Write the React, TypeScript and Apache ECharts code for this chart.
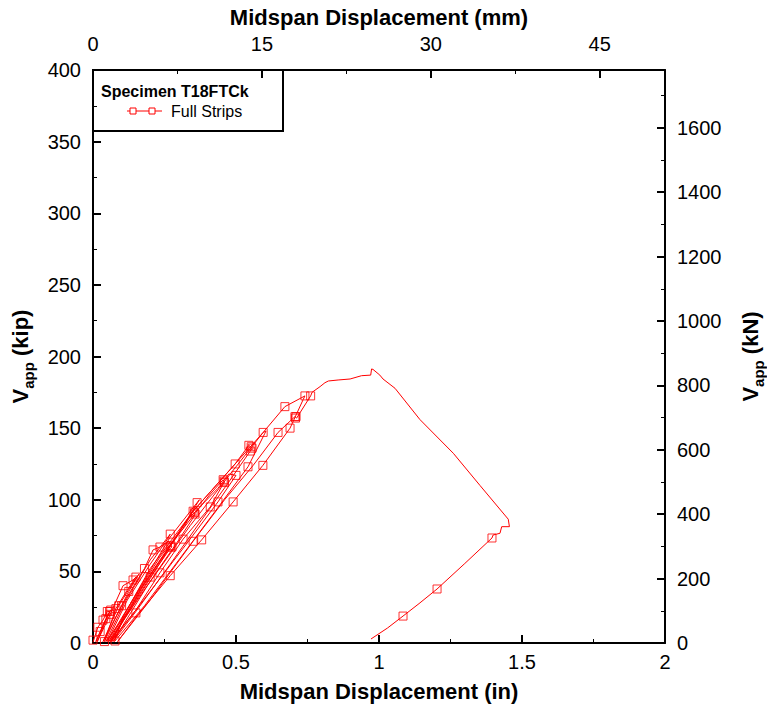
import React, { useEffect, useRef } from "react";
import * as echarts from "echarts";

// Midspan displacement (in) vs applied shear V_app (kip) — full recorded path
const pathIn: number[] = [
  0.000, 0.017, 0.035, 0.050, 0.058, 0.040, 0.010,
  0.025, 0.045, 0.062, 0.045, 0.015,
  0.060, 0.105, 0.140, 0.150, 0.120, 0.080, 0.040,
  0.080, 0.125, 0.160, 0.130, 0.090, 0.035,
  0.100, 0.180, 0.210, 0.234, 0.265, 0.276, 0.270, 0.200, 0.130, 0.045,
  0.110, 0.200, 0.270, 0.262, 0.200, 0.120, 0.050,
  0.120, 0.234, 0.315, 0.350, 0.357, 0.352, 0.300, 0.200, 0.055,
  0.150, 0.270, 0.364, 0.372, 0.360, 0.300, 0.200, 0.060,
  0.160, 0.300, 0.410, 0.455, 0.460, 0.455, 0.410, 0.315, 0.234, 0.150, 0.062,
  0.170, 0.330, 0.437, 0.475, 0.500, 0.437, 0.330, 0.200, 0.065,
  0.180, 0.350, 0.497, 0.545, 0.556, 0.550, 0.470, 0.380, 0.270, 0.150, 0.070,
  0.190, 0.340, 0.480, 0.595, 0.605, 0.600, 0.542, 0.420, 0.300, 0.180, 0.075,
  0.110, 0.200, 0.350, 0.497, 0.595, 0.671, 0.741, 0.735, 0.689, 0.594, 0.490, 0.380, 0.270, 0.150, 0.086,
  0.200, 0.350, 0.460, 0.560, 0.647, 0.706, 0.712, 0.761, 0.766, 0.794, 0.811, 0.823, 0.857, 0.899, 0.939,
  0.971, 0.974, 0.979, 1.003, 1.014, 1.056, 1.143, 1.260, 1.353, 1.452, 1.456, 1.429, 1.423, 1.399, 1.395,
  1.300, 1.203, 1.140, 1.084, 1.030, 0.972,
];
const pathKip: number[] = [
  0.5, 11, 16, 22, 22, 14, 1,
  8, 17, 23, 16, 1,
  20, 40, 44, 46, 37, 24, 1,
  18, 36, 48, 39, 26, 1,
  26, 52, 65, 67, 71, 67, 66, 46, 24, 1,
  28, 58, 76, 73, 55, 30, 1,
  24, 60, 80, 92, 90, 88, 72, 43, 1,
  34, 74, 98, 100, 96, 77, 45, 1,
  36, 76, 104, 114, 112, 111, 95, 72.5, 49, 23, 1,
  38, 86, 108, 118, 117, 98.5, 70, 36, 1,
  42, 92, 125, 138, 136, 134, 111, 86, 55, 22, 1,
  40, 82, 118, 147, 148, 146, 123, 90, 58, 26, 1,
  20, 52, 92, 125, 147, 165, 172.5, 170, 150, 124, 98.5, 72, 47, 18, 1,
  30, 71, 100, 124, 147, 158, 157, 172.5, 175, 179, 181.7, 182.9, 183.6, 184.3, 186.6,
  187, 191.3, 191, 187, 184.3, 177.8, 156, 132.4, 110, 86.4, 81.2, 81.2, 76.6, 75.4, 73.3,
  55.5, 37.7, 27.5, 18.8, 10.5, 2.8,
];

// Marked (square) readings
const markIn: number[] = [
  0.000, 0.040, 0.077, 0.017, 0.035, 0.050, 0.058, 0.025, 0.045, 0.062, 0.060, 0.105, 0.140, 0.150,
  0.080, 0.150, 0.125, 0.090, 0.100, 0.180, 0.210, 0.234, 0.270, 0.276, 0.272, 0.200, 0.270, 0.234,
  0.270, 0.315, 0.350, 0.380, 0.350, 0.357, 0.355, 0.364, 0.410, 0.437, 0.490, 0.455, 0.460, 0.458,
  0.500, 0.497, 0.542, 0.594, 0.545, 0.556, 0.553, 0.550, 0.595, 0.647, 0.689, 0.706, 0.710, 0.708,
  0.671, 0.741, 0.761, 1.395, 1.203, 1.084,
];
const markKip: number[] = [
  2, 1, 1.4, 11, 16, 22, 22, 8, 17, 23, 20, 40, 44, 46,
  24, 21, 36, 26, 26, 52, 65, 67, 67, 67, 68, 46, 76, 49,
  47, 72.5, 71, 72, 92, 90, 91, 98, 95, 98.5, 98.5, 114, 112, 113,
  117, 125, 123, 124, 138, 136, 137, 134, 147, 147, 150, 158, 158, 157,
  165, 172.5, 172.5, 73.3, 37.7, 18.8,
];

const xTicksIn = { min: 0, max: 2, step: 0.5 };
const yTicksKip = { min: 0, max: 400, step: 50 };
const MM_PER_IN = 25.4;
const KN_PER_KIP = 4.448222;

const legendTitle = "Specimen T18FTCk";
const seriesName = "Full Strips";

const SANS = '"Liberation Sans", Arial, Helvetica, sans-serif';
const NARROW = '"Liberation Sans Narrow", "Arial Narrow", "Liberation Sans", Arial, sans-serif';
const RED = "#ff0000";

export default function App() {
  const ref = useRef<HTMLDivElement>(null);
  useEffect(() => {
    document.body.style.margin = "0";
    document.body.style.overflow = "hidden";
    const chart = echarts.init(ref.current!, null, { renderer: "svg" });
    const path = pathIn.map((x, i) => [x, pathKip[i]]);
    const marks = markIn.map((x, i) => [x, markKip[i]]);
    const plain = (v: number) => String(v);
    const tickLabel = { color: "#000", fontSize: 20, fontFamily: SANS, formatter: plain };
    const axisLine = { show: true, onZero: false, lineStyle: { color: "#000", width: 2 } };
    const axisTick = { show: true, inside: true, length: 8, lineStyle: { color: "#000", width: 2 } };
    const minorTick = { show: true, splitNumber: 2, length: 4, lineStyle: { color: "#000", width: 1 } };
    const titleStyle = { color: "#000", fontSize: 22, fontWeight: "bold", fontFamily: NARROW };
    const vRich = {
      rich: {
        v: { fontSize: 22, fontWeight: "bold", fontFamily: NARROW, color: "#000", lineHeight: 32 },
        s: { fontSize: 15, fontWeight: "bold", fontFamily: NARROW, color: "#000", verticalAlign: "bottom", lineHeight: 32 },
      },
    };
    const lx = 93, ly = 70;
    chart.setOption({
      animation: false,
      backgroundColor: "#fff",
      grid: { left: 93, right: 102, top: 70, bottom: 68, containLabel: false, outerBoundsMode: "none" },
      xAxis: [
        {
          type: "value", position: "bottom", min: xTicksIn.min, max: xTicksIn.max, interval: xTicksIn.step,
          name: "Midspan Displacement (in)", nameLocation: "middle", nameGap: 37, nameTextStyle: titleStyle,
          axisLine, axisTick, minorTick, splitLine: { show: false }, minorSplitLine: { show: false },
          axisLabel: { ...tickLabel, margin: 9 },
        },
        {
          type: "value", position: "top", min: 0, max: xTicksIn.max * MM_PER_IN, interval: 15,
          name: "Midspan Displacement (mm)", nameLocation: "middle", nameGap: 42, nameTextStyle: titleStyle,
          axisLine, axisTick, minorTick, splitLine: { show: false },
          axisLabel: { ...tickLabel, margin: 16, showMaxLabel: false },
        },
      ],
      yAxis: [
        {
          type: "value", position: "left", min: yTicksKip.min, max: yTicksKip.max, interval: yTicksKip.step,
          name: "{v|V}{s|app}{v| (kip)}", nameLocation: "middle", nameGap: 57, nameRotate: 90, nameTextStyle: vRich,
          axisLine, axisTick, minorTick, splitLine: { show: false },
          axisLabel: { ...tickLabel, margin: 12 },
        },
        {
          type: "value", position: "right", min: 0, max: yTicksKip.max * KN_PER_KIP, interval: 200,
          name: "{v|V}{s|app}{v| (kN)}", nameLocation: "middle", nameGap: 69, nameRotate: 90, nameTextStyle: vRich,
          axisLine, axisTick, minorTick, splitLine: { show: false },
          axisLabel: { ...tickLabel, margin: 12, showMaxLabel: false },
        },
      ],
      series: [
        {
          name: seriesName, type: "line", xAxisIndex: 0, yAxisIndex: 0, data: path,
          symbol: "none", showSymbol: false, lineStyle: { color: RED, width: 1 }, silent: true,
        },
        {
          name: seriesName, type: "scatter", xAxisIndex: 0, yAxisIndex: 0, data: marks,
          symbol: "rect", symbolSize: 8,
          itemStyle: { color: "rgba(255,255,255,0)", borderColor: RED, borderWidth: 1 }, silent: true,
        },
      ],
      graphic: [
        {
          type: "group", z: 100,
          children: [
            { type: "rect", shape: { x: lx, y: ly, width: 190, height: 61 }, style: { fill: "#fff", stroke: "#000", lineWidth: 2 } },
            {
              type: "text", x: lx + 8, y: ly + 21,
              style: { text: legendTitle, fontSize: 16, fontWeight: "bold", fontFamily: SANS, fill: "#000", verticalAlign: "middle", textVerticalAlign: "middle" },
            },
            { type: "line", shape: { x1: lx + 34, y1: ly + 41, x2: lx + 69, y2: ly + 41 }, style: { stroke: RED, lineWidth: 1 } },
            { type: "rect", shape: { x: lx + 37, y: ly + 38, width: 6, height: 6 }, style: { fill: "#fff", stroke: RED, lineWidth: 1 } },
            { type: "rect", shape: { x: lx + 56, y: ly + 38, width: 6, height: 6 }, style: { fill: "#fff", stroke: RED, lineWidth: 1 } },
            {
              type: "text", x: lx + 78, y: ly + 41,
              style: { text: seriesName, fontSize: 16, fontFamily: SANS, fill: "#000", verticalAlign: "middle", textVerticalAlign: "middle" },
            },
          ],
        },
      ],
    });
    return () => chart.dispose();
  }, []);
  return <div ref={ref} style={{ width: 767, height: 711 }} />;
}
